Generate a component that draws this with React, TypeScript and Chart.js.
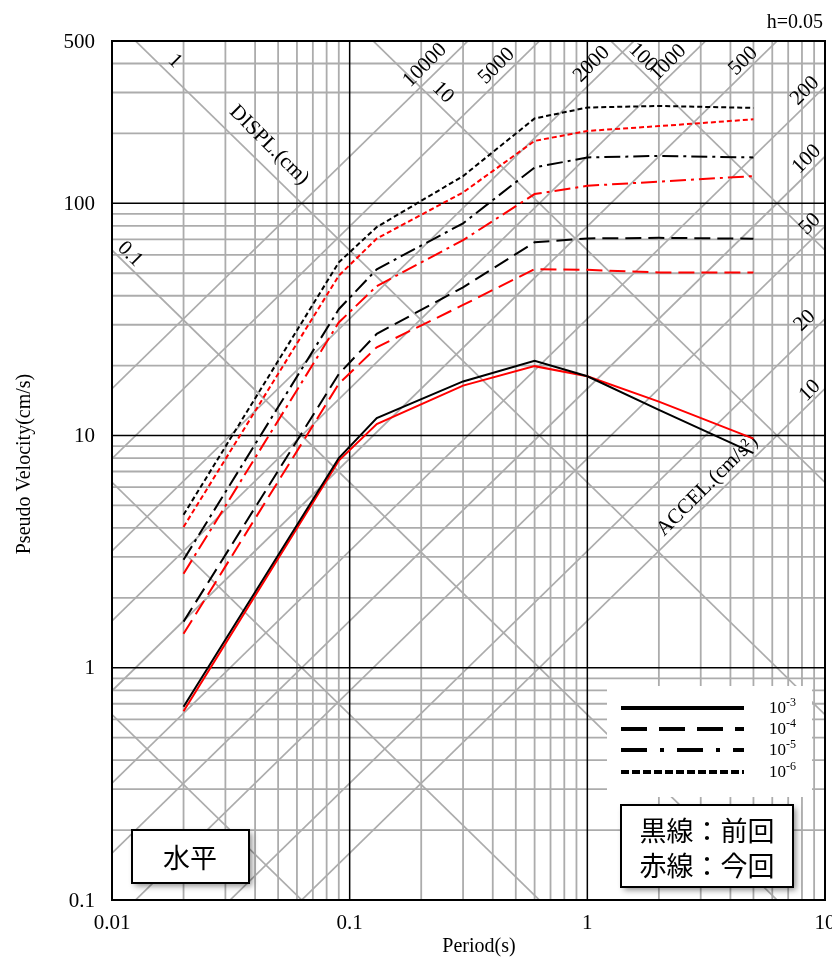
import React, { useEffect, useRef } from "react";
import { Chart, registerables } from "chart.js";

Chart.register(...registerables);

// ---- data (periods in s, pseudo velocity in cm/s) ----
const PERIODS = [0.02, 0.09, 0.13, 0.3, 0.6, 1, 2, 5];
const PREV_1E3 = [0.68, 8.0, 11.9, 17.1, 21.0, 18.0, 12.9, 8.4];
const PREV_1E4 = [1.58, 18.4, 27.4, 43.5, 68, 70.6, 71, 70.4];
const PREV_1E5 = [2.92, 35, 52, 82, 142.7, 157.6, 160, 157.6];
const PREV_1E6 = [4.56, 55.7, 79, 131, 232, 258.5, 262.6, 257.5];
const CURR_1E3 = [0.65, 7.8, 11.2, 16.4, 19.9, 18.0, 14.0, 9.7];
const CURR_1E4 = [1.4, 16.7, 24.0, 36.5, 52.1, 51.7, 50.4, 50.4];
const CURR_1E5 = [2.54, 30.7, 44, 69.4, 109.6, 119, 124, 131];
const CURR_1E6 = [4.04, 48.8, 70.5, 111.4, 185.7, 205, 215, 230];

const X_TICKS = [0.01, 0.1, 1, 10];
const X_TICK_LABELS = ["0.01", "0.1", "1", "10"];
const Y_TICKS = [0.1, 1, 10, 100, 500];
const Y_TICK_LABELS = ["0.1", "1", "10", "100", "500"];
const X_MAJOR = [0.1, 1];
const Y_MAJOR = [1, 10, 100];
const DISPL_LINES = [0.001, 0.01, 0.1, 1, 10, 100];
const ACCEL_LINES = [10, 20, 50, 100, 200, 500, 1000, 2000, 5000, 10000];
const LEGEND_EXPONENTS = ["-3", "-4", "-5", "-6"];
const DAMPING_LABEL = "h=0.05";

// label anchors in data space [text, period, velocity]
const DISPL_LABELS: [string, number, number][] = [
  ["1", 0.0184, 410],
  ["DISPL.(cm)", 0.0458, 178],
  ["10", 0.2465, 300],
  ["100", 1.714, 425],
  ["0.1", 0.0119, 60.4],
];
const ACCEL_LABELS: [string, number, number][] = [
  ["10000", 0.2075, 393],
  ["5000", 0.4155, 390],
  ["2000", 1.042, 397],
  ["1000", 2.19, 403.6],
  ["500", 4.53, 410],
  ["200", 8.23, 304.8],
  ["100", 8.37, 154.9],
  ["50", 8.64, 81.4],
  ["20", 8.23, 31.2],
  ["10", 8.64, 15.6],
  ["ACCEL.(cm/s²)", 3.2, 6.09],
];

const SERIF = '"Liberation Serif", "Times New Roman", serif';
const CJK = '"Noto Sans CJK JP", sans-serif';
const GRID = "rgb(172,172,172)";

const DASH_SOLID: number[] = [];
const DASH_LONG = [16, 7];
const DASH_DOT = [16, 5, 3, 5];
const DASH_SHORT = [5, 3];

function rotText(ctx: CanvasRenderingContext2D, text: string, px: number, py: number, angle: number, font: string) {
  ctx.save();
  ctx.translate(px, py);
  ctx.rotate(angle);
  ctx.font = font;
  ctx.textAlign = "center";
  ctx.textBaseline = "middle";
  ctx.fillStyle = "#000";
  ctx.fillText(text, 0, 0);
  ctx.restore();
}

const tripartite = {
  id: "tripartite",
  beforeDatasetsDraw(chart: any) {
    const { ctx, chartArea: a, scales } = chart;
    const x = scales.x;
    const y = scales.y;
    ctx.save();
    ctx.fillStyle = "#fff";
    ctx.fillRect(a.left, a.top, a.right - a.left, a.bottom - a.top);
    ctx.beginPath();
    ctx.rect(a.left, a.top, a.right - a.left, a.bottom - a.top);
    ctx.clip();
    ctx.strokeStyle = GRID;
    ctx.lineWidth = 1.8;
    // minor grid
    for (let e = -2; e <= 0; e++) {
      for (let k = 2; k <= 9; k++) {
        const px = x.getPixelForValue(k * Math.pow(10, e));
        ctx.beginPath();
        ctx.moveTo(px, a.top);
        ctx.lineTo(px, a.bottom);
        ctx.stroke();
      }
    }
    for (let e = -1; e <= 2; e++) {
      for (let k = 2; k <= 9; k++) {
        const v = k * Math.pow(10, e);
        if (v >= 500) continue;
        const py = y.getPixelForValue(v);
        ctx.beginPath();
        ctx.moveTo(a.left, py);
        ctx.lineTo(a.right, py);
        ctx.stroke();
      }
    }
    // tripartite diagonals
    const T0 = 0.01;
    const T1 = 10;
    const w = 2 * Math.PI;
    ctx.lineWidth = 1.7;
    DISPL_LINES.forEach((d) => {
      ctx.beginPath();
      ctx.moveTo(x.getPixelForValue(T0), y.getPixelForValue((w * d) / T0));
      ctx.lineTo(x.getPixelForValue(T1), y.getPixelForValue((w * d) / T1));
      ctx.stroke();
    });
    ACCEL_LINES.forEach((acc) => {
      ctx.beginPath();
      ctx.moveTo(x.getPixelForValue(T0), y.getPixelForValue((acc * T0) / w));
      ctx.lineTo(x.getPixelForValue(T1), y.getPixelForValue((acc * T1) / w));
      ctx.stroke();
    });
    // major grid
    ctx.strokeStyle = "#000";
    ctx.lineWidth = 1.5;
    X_MAJOR.forEach((v) => {
      const px = x.getPixelForValue(v);
      ctx.beginPath();
      ctx.moveTo(px, a.top);
      ctx.lineTo(px, a.bottom);
      ctx.stroke();
    });
    Y_MAJOR.forEach((v) => {
      const py = y.getPixelForValue(v);
      ctx.beginPath();
      ctx.moveTo(a.left, py);
      ctx.lineTo(a.right, py);
      ctx.stroke();
    });
    ctx.restore();

    // diagonal labels
    DISPL_LABELS.forEach(([t, tt, vv]) => {
      rotText(ctx, t, x.getPixelForValue(tt), y.getPixelForValue(vv), Math.PI / 4, `21px ${SERIF}`);
    });
    ACCEL_LABELS.forEach(([t, tt, vv]) => {
      rotText(ctx, t, x.getPixelForValue(tt), y.getPixelForValue(vv), -Math.PI / 4, `21px ${SERIF}`);
    });
  },
  afterDatasetsDraw(chart: any) {
    const { ctx, chartArea: a, scales } = chart;
    const x = scales.x;
    const y = scales.y;
    ctx.save();
    // frame
    ctx.strokeStyle = "#000";
    ctx.lineWidth = 2;
    ctx.strokeRect(a.left, a.top, a.right - a.left, a.bottom - a.top);

    // tick labels
    ctx.fillStyle = "#000";
    ctx.font = `21px ${SERIF}`;
    ctx.textAlign = "right";
    ctx.textBaseline = "middle";
    Y_TICKS.forEach((v, i) => ctx.fillText(Y_TICK_LABELS[i], a.left - 17, y.getPixelForValue(v) + 1));
    ctx.textAlign = "center";
    X_TICKS.forEach((v, i) => ctx.fillText(X_TICK_LABELS[i], x.getPixelForValue(v), a.bottom + 23));
    // axis titles
    ctx.font = `20px ${SERIF}`;
    ctx.fillText("Period(s)", 479, a.bottom + 47);
    rotText(ctx, "Pseudo Velocity(cm/s)", 25, 464, -Math.PI / 2, `20px ${SERIF}`);
    ctx.textAlign = "right";
    ctx.textBaseline = "alphabetic";
    ctx.font = `20px ${SERIF}`;
    ctx.fillText(DAMPING_LABEL, 823, 28);

    // legend
    ctx.fillStyle = "#fff";
    ctx.fillRect(607, 686, 205, 111);
    const dashes = [DASH_SOLID, [26, 12], [26, 13, 4, 13], [8, 3]];
    const ly = [708, 729, 750, 772];
    ctx.strokeStyle = "#000";
    ctx.lineWidth = 3.8;
    ctx.lineCap = "butt";
    dashes.forEach((d, i) => {
      ctx.setLineDash(d);
      ctx.beginPath();
      ctx.moveTo(621, ly[i]);
      ctx.lineTo(744, ly[i]);
      ctx.stroke();
    });
    ctx.setLineDash([]);
    ctx.fillStyle = "#000";
    ctx.textAlign = "left";
    LEGEND_EXPONENTS.forEach((ex, i) => {
      ctx.font = `17px ${SERIF}`;
      ctx.textBaseline = "middle";
      ctx.fillText("10", 769, ly[i] + 1);
      const wd = ctx.measureText("10").width;
      ctx.font = `12px ${SERIF}`;
      ctx.fillText(ex, 769 + wd, ly[i] - 5);
    });

    // note boxes
    const box = (bx: number, by: number, bw: number, bh: number) => {
      ctx.save();
      ctx.shadowColor = "rgba(0,0,0,0.45)";
      ctx.shadowBlur = 6;
      ctx.shadowOffsetX = 3;
      ctx.shadowOffsetY = 3;
      ctx.fillStyle = "#fff";
      ctx.fillRect(bx, by, bw, bh);
      ctx.restore();
      ctx.strokeStyle = "#000";
      ctx.lineWidth = 2;
      ctx.strokeRect(bx, by, bw, bh);
    };
    box(621, 805, 172, 82);
    ctx.fillStyle = "#000";
    ctx.font = `27px ${CJK}`;
    ctx.textAlign = "center";
    ctx.textBaseline = "middle";
    ctx.fillText("黒線：前回", 707, 831);
    ctx.fillText("赤線：今回", 707, 866);
    box(132, 830, 117, 53);
    ctx.fillStyle = "#000";
    ctx.font = `27px ${CJK}`;
    ctx.fillText("水平", 190, 858);
    ctx.restore();
  },
};

export default function App() {
  const ref = useRef<HTMLCanvasElement>(null);
  useEffect(() => {
    const canvas = ref.current;
    if (!canvas) return;
    const mk = (label: string, vals: number[], color: string, dash: number[]) => ({
      label,
      data: PERIODS.map((t, i) => ({ x: t, y: vals[i] })),
      borderColor: color,
      backgroundColor: color,
      borderWidth: 2,
      borderDash: dash,
      pointRadius: 0,
      fill: false,
      tension: 0,
    });
    const chart = new Chart(canvas, {
      type: "line",
      data: {
        datasets: [
          mk("前回 10^-3", PREV_1E3, "#000", DASH_SOLID),
          mk("前回 10^-4", PREV_1E4, "#000", DASH_LONG),
          mk("前回 10^-5", PREV_1E5, "#000", DASH_DOT),
          mk("前回 10^-6", PREV_1E6, "#000", DASH_SHORT),
          mk("今回 10^-3", CURR_1E3, "#ff0000", DASH_SOLID),
          mk("今回 10^-4", CURR_1E4, "#ff0000", DASH_LONG),
          mk("今回 10^-5", CURR_1E5, "#ff0000", DASH_DOT),
          mk("今回 10^-6", CURR_1E6, "#ff0000", DASH_SHORT),
        ],
      } as any,
      options: {
        responsive: false,
        animation: false,
        events: [],
        layout: { padding: { left: 112, top: 41, right: 7, bottom: 59 } },
        scales: {
          x: { type: "logarithmic", min: 0.01, max: 10, display: false },
          y: { type: "logarithmic", min: 0.1, max: 500, display: false },
        },
        plugins: { legend: { display: false }, tooltip: { enabled: false } },
      } as any,
      plugins: [tripartite as any],
    });
    return () => chart.destroy();
  }, []);
  return (
    <div style={{ position: "absolute", left: 0, top: 0, width: 832, height: 959, background: "#fff" }}>
      <canvas ref={ref} width={832} height={959} style={{ display: "block" }} />
    </div>
  );
}
